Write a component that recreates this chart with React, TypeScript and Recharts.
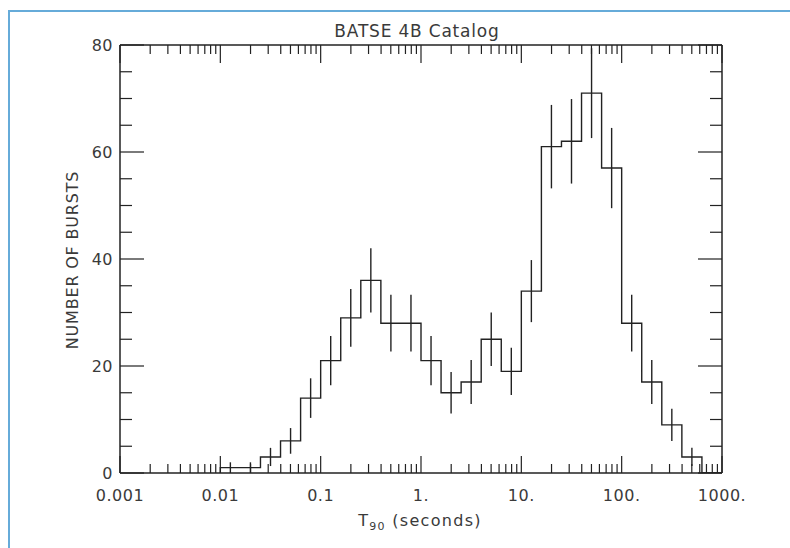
import React from "react";
import { ComposedChart, Line, Scatter, ErrorBar, XAxis, YAxis, Label } from "recharts";

// log10(T90) lower bin edges, 0.2 dex wide
const binEdges = [
  -2.0, -1.8, -1.6, -1.4, -1.2, -1.0, -0.8, -0.6, -0.4, -0.2, 0.0, 0.2, 0.4,
  0.6, 0.8, 1.0, 1.2, 1.4, 1.6, 1.8, 2.0, 2.2, 2.4, 2.6, 2.8,
];
const binWidth = 0.2;
const burstCounts = [
  1, 1, 3, 6, 14, 21, 29, 36, 28, 28, 21, 15, 17, 25, 19, 34, 61, 62, 71, 57,
  28, 17, 9, 3, 0,
];
const countErrors = [
  1.0, 1.0, 1.7, 2.4, 3.7, 4.6, 5.4, 6.0, 5.3, 5.3, 4.6, 3.9, 4.1, 5.0, 4.4,
  5.8, 7.8, 7.9, 8.4, 7.5, 5.3, 4.1, 3.0, 1.7, 0,
];

const majorTicks = [-3, -2, -1, 0, 1, 2, 3];
const majorLabels = ["0.001", "0.01", "0.1", "1.", "10.", "100.", "1000."];
const yTicks = [0, 5, 10, 15, 20, 25, 30, 35, 40, 45, 50, 55, 60, 65, 70, 75, 80];
const yLabelled = [0, 20, 40, 60, 80];

const minorTicks: number[] = [];
majorTicks.slice(0, -1).forEach((d) => {
  for (let k = 2; k <= 9; k++) minorTicks.push(d + Math.log10(k));
});
const xTicks = [...majorTicks, ...minorTicks].sort((a, b) => a - b);

// step outline: baseline point, each bin's left edge, then the closing edge
const stepData = [
  { x: binEdges[0], y: 0 },
  ...binEdges.map((e, i) => ({ x: e, y: burstCounts[i] })),
  { x: binEdges[binEdges.length - 1] + binWidth, y: 0 },
];
const barData = binEdges.map((e, i) => ({
  x: e + binWidth / 2,
  y: burstCounts[i],
  err: countErrors[i],
}));

const INK = "#222";
const TEXT = "#3a3a3a";
const FONT = "'DejaVu Sans', sans-serif";

const BottomTick = (props: any) => {
  const { x, y, payload } = props;
  const idx = majorTicks.indexOf(payload.value);
  const major = idx >= 0;
  return (
    <g>
      <line x1={x} y1={y} x2={x} y2={y - (major ? 17 : 9)} stroke={INK} strokeWidth={1.2} />
      {major && (
        <text x={x} y={y + 28} textAnchor="middle" fontSize={16} fontFamily={FONT} fill={TEXT} letterSpacing={0.5}>
          {majorLabels[idx]}
        </text>
      )}
    </g>
  );
};

const TopTick = (props: any) => {
  const { x, y, payload } = props;
  const major = majorTicks.indexOf(payload.value) >= 0;
  return <line x1={x} y1={y} x2={x} y2={y + (major ? 18 : 9)} stroke={INK} strokeWidth={1.2} />;
};

const LeftTick = (props: any) => {
  const { x, y, payload } = props;
  const major = yLabelled.indexOf(payload.value) >= 0;
  return (
    <g>
      <line x1={x} y1={y} x2={x + (major ? 24 : 12)} y2={y} stroke={INK} strokeWidth={1.2} />
      {major && (
        <text x={x - 7} y={y + 6} textAnchor="end" fontSize={16} fontFamily={FONT} fill={TEXT} letterSpacing={0.5}>
          {payload.value}
        </text>
      )}
    </g>
  );
};

const RightTick = (props: any) => {
  const { x, y, payload } = props;
  const major = yLabelled.indexOf(payload.value) >= 0;
  return <line x1={x} y1={y} x2={x - (major ? 24 : 12)} y2={y} stroke={INK} strokeWidth={1.2} />;
};

export default function App() {
  return (
    <div style={{ position: "absolute", left: 0, top: 0, width: 790, height: 548, background: "#fff", overflow: "hidden" }}>
      <div
        style={{
          position: "absolute",
          left: 8,
          top: 10,
          width: 800,
          height: 560,
          border: "2px solid #66abd9",
        }}
      />
      <ComposedChart
        width={790}
        height={548}
        margin={{ top: 15, right: 58, bottom: 45, left: 60 }}
        style={{ position: "absolute", left: 0, top: 0 }}
      >
        <XAxis
          dataKey="x"
          type="number"
          domain={[-3, 3]}
          allowDataOverflow
          ticks={xTicks}
          interval={0}
          tickSize={0}
          tickMargin={0}
          tickLine={false}
          tick={BottomTick}
          height={30}
          axisLine={{ stroke: INK, strokeWidth: 1.5 }}
        >
          <Label
            content={() => (
              <text x={420} y={526} textAnchor="middle" fontSize={16} fontFamily={FONT} fill={TEXT} letterSpacing={1.3}>
                T<tspan fontSize={11} dy={4}>90</tspan>
                <tspan dy={-4}> (seconds)</tspan>
              </text>
            )}
          />
        </XAxis>
        <XAxis
          xAxisId="top"
          orientation="top"
          dataKey="x"
          type="number"
          domain={[-3, 3]}
          allowDataOverflow
          ticks={xTicks}
          interval={0}
          tickSize={0}
          tickMargin={0}
          tickLine={false}
          tick={TopTick}
          height={30}
          axisLine={{ stroke: INK, strokeWidth: 1.5 }}
        >
          <Label
            content={() => (
              <text x={417} y={37} textAnchor="middle" fontSize={17} fontFamily={FONT} fill={TEXT} letterSpacing={0.8}>
                BATSE 4B Catalog
              </text>
            )}
          />
        </XAxis>
        <YAxis
          type="number"
          domain={[0, 80]}
          allowDataOverflow
          ticks={yTicks}
          interval={0}
          tickSize={0}
          tickMargin={0}
          tickLine={false}
          tick={LeftTick}
          width={60}
          axisLine={{ stroke: INK, strokeWidth: 1.5 }}
        >
          <Label
            content={() => (
              <text
                x={78}
                y={260}
                transform="rotate(-90 78 260)"
                textAnchor="middle"
                fontSize={16}
                fontFamily={FONT}
                fill={TEXT}
                letterSpacing={0.8}
              >
                NUMBER OF BURSTS
              </text>
            )}
          />
        </YAxis>
        <YAxis
          yAxisId="right"
          orientation="right"
          type="number"
          domain={[0, 80]}
          allowDataOverflow
          ticks={yTicks}
          interval={0}
          tickSize={0}
          tickMargin={0}
          tickLine={false}
          tick={RightTick}
          width={10}
          axisLine={{ stroke: INK, strokeWidth: 1.5 }}
        />
        <Line
          data={stepData}
          dataKey="y"
          type="stepAfter"
          stroke={INK}
          strokeWidth={1.4}
          dot={false}
          activeDot={false}
          isAnimationActive={false}
        />
        <Scatter data={barData} dataKey="y" shape={() => <g />} isAnimationActive={false}>
          <ErrorBar dataKey="err" direction="y" width={0} stroke={INK} strokeWidth={1.4} isAnimationActive={false} />
        </Scatter>
      </ComposedChart>
    </div>
  );
}
